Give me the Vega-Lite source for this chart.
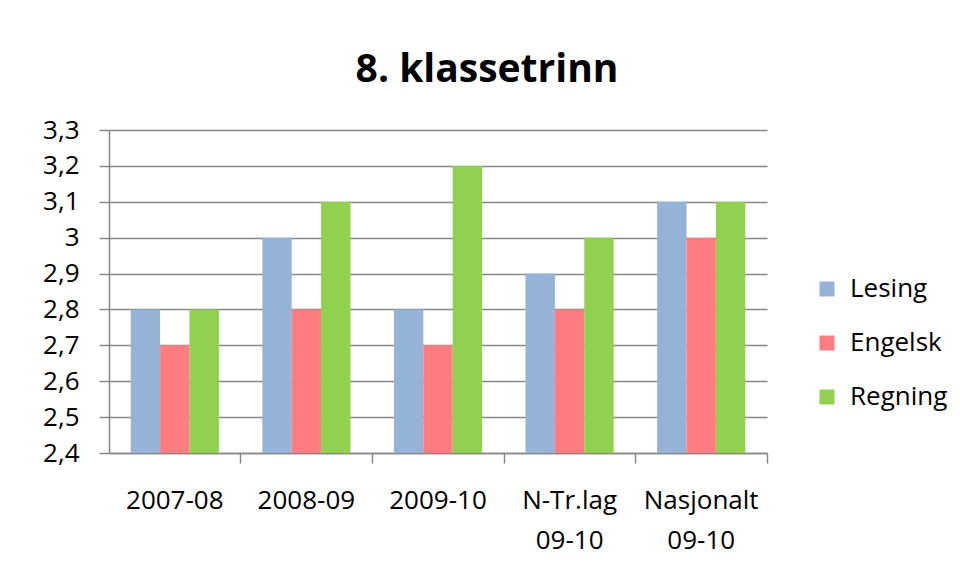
{
  "$schema": "https://vega.github.io/schema/vega-lite/v6.json",
  "autosize": "none",
  "padding": {"left": 109, "top": 130, "right": 193, "bottom": 130},
  "width": 658,
  "height": 323,
  "background": "white",
  "title": {
    "text": "8. klassetrinn",
    "font": "Open Sans",
    "fontSize": 39,
    "fontWeight": "bold",
    "color": "#000000",
    "anchor": "middle",
    "dx": 49,
    "dy": 52,
    "baseline": "bottom",
    "offset": 40
  },
  "data": {
    "values": [
      {"periode": "2007-08", "fag": "Lesing", "verdi": 2.8},
      {"periode": "2007-08", "fag": "Engelsk", "verdi": 2.7},
      {"periode": "2007-08", "fag": "Regning", "verdi": 2.8},
      {"periode": "2008-09", "fag": "Lesing", "verdi": 3.0},
      {"periode": "2008-09", "fag": "Engelsk", "verdi": 2.8},
      {"periode": "2008-09", "fag": "Regning", "verdi": 3.1},
      {"periode": "2009-10", "fag": "Lesing", "verdi": 2.8},
      {"periode": "2009-10", "fag": "Engelsk", "verdi": 2.7},
      {"periode": "2009-10", "fag": "Regning", "verdi": 3.2},
      {"periode": "N-Tr.lag 09-10", "fag": "Lesing", "verdi": 2.9},
      {"periode": "N-Tr.lag 09-10", "fag": "Engelsk", "verdi": 2.8},
      {"periode": "N-Tr.lag 09-10", "fag": "Regning", "verdi": 3.0},
      {"periode": "Nasjonalt 09-10", "fag": "Lesing", "verdi": 3.1},
      {"periode": "Nasjonalt 09-10", "fag": "Engelsk", "verdi": 3.0},
      {"periode": "Nasjonalt 09-10", "fag": "Regning", "verdi": 3.1}
    ]
  },
  "mark": {"type": "bar", "clip": true},
  "encoding": {
    "x": {
      "field": "periode",
      "type": "nominal",
      "sort": ["2007-08", "2008-09", "2009-10", "N-Tr.lag 09-10", "Nasjonalt 09-10"],
      "scale": {"paddingInner": 0.33, "paddingOuter": 0.165},
      "axis": {
        "title": null,
        "labelAngle": 0,
        "bandPosition": 1.25,
        "labelExpr": "indexof(datum.label, ' ') > 0 ? split(datum.label, ' ') : datum.label",
        "labelLineHeight": 40,
        "labelBaseline": "top",
        "labelPadding": 24,
        "tickSize": 10,
        "ticks": true,
        "grid": false,
        "domain": true
      }
    },
    "xOffset": {
      "field": "fag",
      "type": "nominal",
      "sort": ["Lesing", "Engelsk", "Regning"],
      "scale": {"paddingInner": 0, "paddingOuter": 0}
    },
    "y": {
      "field": "verdi",
      "type": "quantitative",
      "scale": {"domain": [2.4, 3.3], "zero": false, "nice": false},
      "axis": {
        "title": null,
        "values": [2.4, 2.5, 2.6, 2.7, 2.8, 2.9, 3.0, 3.1, 3.2, 3.3],
        "format": ".1~f",
        "tickSize": 10,
        "labelPadding": 20,
        "grid": true
      }
    },
    "color": {
      "field": "fag",
      "type": "nominal",
      "sort": ["Lesing", "Engelsk", "Regning"],
      "scale": {"domain": ["Lesing", "Engelsk", "Regning"], "range": ["#95B3D7", "#FF7C80", "#92D050"]},
      "legend": {
        "title": null,
        "orient": "none",
        "legendX": 705,
        "legendY": 146,
        "symbolType": "square",
        "symbolSize": 225,
        "symbolStrokeWidth": 0,
        "labelFontSize": 26,
        "labelFont": "Open Sans",
        "labelColor": "#000000",
        "labelOffset": 10,
        "rowPadding": 28
      }
    }
  },
  "config": {
    "locale": {
      "number": {"decimal": ",", "thousands": " ", "grouping": [3], "currency": ["", " kr"]}
    },
    "view": {"stroke": null},
    "axis": {
      "labelFont": "Open Sans",
      "labelFontSize": 26,
      "labelColor": "#000000",
      "domainColor": "#888888",
      "tickColor": "#888888",
      "gridColor": "#888888",
      "domainWidth": 1.5,
      "tickWidth": 1.5,
      "gridWidth": 1.5
    }
  }
}
